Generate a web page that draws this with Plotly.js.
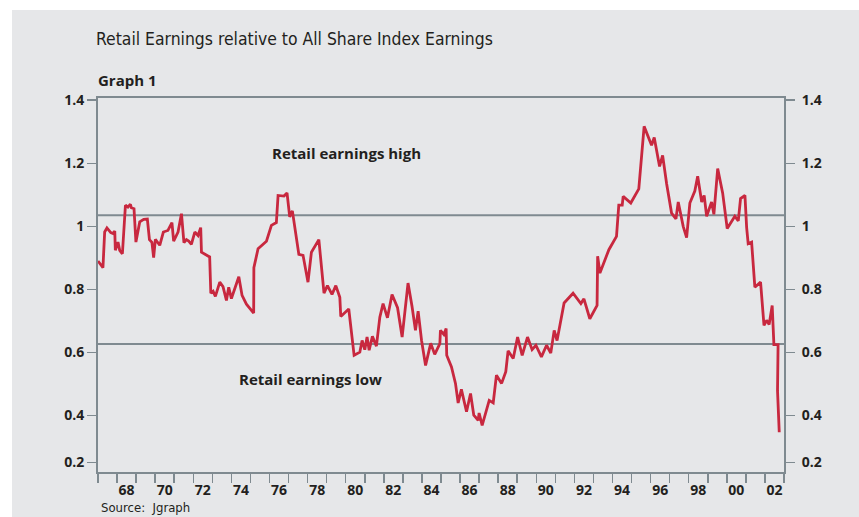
<!DOCTYPE html>
<html>
<head>
<meta charset="utf-8">
<script src="https://cdn.plot.ly/plotly-3.0.1.min.js"></script>
<style>
  html, body { margin: 0; padding: 0; background: #ffffff; width: 859px; height: 517px; overflow: hidden; }
  #chart { position: absolute; left: 12px; top: 10px; width: 847px; height: 507px; }
</style>
</head>
<body>
<div id="chart"></div>
<script>
// Decimal-year positions of the line's vertices
const years = [
  1967.00, 1967.26, 1967.35, 1967.47, 1967.67, 1967.79, 1967.88, 1967.91, 1968.05, 1968.14,
  1968.28, 1968.44, 1968.57, 1968.70, 1968.75, 1968.89, 1968.99, 1969.19, 1969.40, 1969.59,
  1969.70, 1969.83, 1969.92, 1970.01, 1970.24, 1970.43, 1970.67, 1970.88, 1970.97, 1971.20,
  1971.38, 1971.51, 1971.64, 1971.76, 1971.90, 1972.08, 1972.25, 1972.39, 1972.43, 1972.86,
  1972.92, 1973.04, 1973.16, 1973.39, 1973.56, 1973.74, 1973.86, 1974.00, 1974.18, 1974.39,
  1974.56, 1974.79, 1975.17, 1975.18, 1975.40, 1975.84, 1976.10, 1976.36, 1976.45, 1976.76,
  1976.92, 1977.06, 1977.20, 1977.54, 1977.76, 1978.02, 1978.20, 1978.59, 1978.86, 1979.04,
  1979.28, 1979.48, 1979.69, 1979.74, 1980.16, 1980.44, 1980.74, 1980.86, 1981.00, 1981.12,
  1981.23, 1981.40, 1981.61, 1981.79, 1981.96, 1982.19, 1982.43, 1982.72, 1982.96, 1983.27,
  1983.48, 1983.66, 1983.80, 1983.98, 1984.19, 1984.46, 1984.67, 1984.94, 1984.97, 1985.15,
  1985.27, 1985.30, 1985.55, 1985.76, 1985.90, 1986.07, 1986.34, 1986.55, 1986.72, 1986.95,
  1987.00, 1987.16, 1987.53, 1987.74, 1987.91, 1988.18, 1988.40, 1988.52, 1988.79, 1989.02,
  1989.26, 1989.54, 1989.78, 1989.98, 1990.27, 1990.54, 1990.76, 1990.94, 1991.09, 1991.46,
  1991.93, 1992.34, 1992.50, 1992.81, 1993.19, 1993.22, 1993.34, 1993.81, 1994.21, 1994.33,
  1994.51, 1994.56, 1994.96, 1995.38, 1995.66, 1996.05, 1996.19, 1996.47, 1996.63, 1996.84,
  1997.10, 1997.33, 1997.45, 1997.71, 1997.89, 1998.06, 1998.32, 1998.47, 1998.68, 1998.81,
  1998.94, 1999.20, 1999.32, 1999.52, 1999.78, 2000.02, 2000.42, 2000.60, 2000.72, 2000.95,
  2001.04, 2001.12, 2001.30, 2001.47, 2001.77, 2001.95, 2002.09, 2002.22, 2002.38, 2002.47,
  2002.69, 2002.66, 2002.75
];

// Retail earnings relative to All Share Index earnings
const relativeEarnings = [
  0.890, 0.869, 0.982, 0.995, 0.980, 0.977, 0.985, 0.924, 0.950, 0.924,
  0.913, 1.067, 1.061, 1.070, 1.059, 1.056, 0.950, 1.014, 1.022, 1.023,
  0.958, 0.949, 0.901, 0.959, 0.940, 0.982, 0.987, 1.012, 0.953, 0.982,
  1.040, 0.948, 0.958, 0.953, 0.943, 0.982, 0.971, 0.996, 0.918, 0.903,
  0.788, 0.794, 0.778, 0.823, 0.809, 0.765, 0.807, 0.771, 0.803, 0.840,
  0.781, 0.753, 0.725, 0.869, 0.929, 0.953, 1.003, 1.012, 1.098, 1.096,
  1.106, 1.030, 1.049, 0.911, 0.908, 0.823, 0.918, 0.958, 0.788, 0.812,
  0.784, 0.812, 0.775, 0.714, 0.738, 0.591, 0.601, 0.638, 0.609, 0.649,
  0.607, 0.651, 0.620, 0.712, 0.755, 0.710, 0.784, 0.742, 0.649, 0.820,
  0.746, 0.670, 0.731, 0.638, 0.559, 0.629, 0.594, 0.628, 0.670, 0.657,
  0.676, 0.591, 0.554, 0.502, 0.440, 0.483, 0.412, 0.470, 0.401, 0.385,
  0.408, 0.369, 0.448, 0.440, 0.528, 0.502, 0.539, 0.605, 0.581, 0.649,
  0.591, 0.649, 0.609, 0.623, 0.586, 0.623, 0.598, 0.670, 0.638, 0.757,
  0.788, 0.755, 0.770, 0.707, 0.749, 0.905, 0.852, 0.926, 0.968, 1.067,
  1.067, 1.095, 1.074, 1.119, 1.317, 1.257, 1.282, 1.190, 1.225, 1.135,
  1.042, 1.024, 1.077, 1.000, 0.964, 1.074, 1.112, 1.159, 1.077, 1.098,
  1.032, 1.077, 1.038, 1.183, 1.106, 0.993, 1.032, 1.017, 1.088, 1.098,
  0.996, 0.945, 0.950, 0.807, 0.823, 0.686, 0.702, 0.689, 0.749, 0.625,
  0.625, 0.479, 0.347
];

// Reference levels
const highLevel = 1.035;
const lowLevel = 0.627;

// Axis ticks
const xTickYears = [1968, 1970, 1972, 1974, 1976, 1978, 1980, 1982, 1984, 1986, 1988, 1990, 1992, 1994, 1996, 1998, 2000, 2002];
const xTickLabels = ['68', '70', '72', '74', '76', '78', '80', '82', '84', '86', '88', '90', '92', '94', '96', '98', '00', '02'];
const yTickValues = [0.2515, 0.4, 0.6, 0.8, 1.0, 1.2, 1.4];
const yTickLabels = ['0.2', '0.4', '0.6', '0.8', '1', '1.2', '1.4'];

const axisGray = '#7f8a90';
const textDark = '#231f20';
const bg = '#e6e7e9';
const boldFont = { family: '"Open Sans", "Noto Sans", sans-serif', size: 14, color: textDark, weight: 700 };
const narrowFamily = '"Liberation Sans Narrow", "DejaVu Sans Condensed", "Roboto", sans-serif';
const yRange = [0.221, 1.407];
const xRange = [1967, 2003];

const trace = {
  x: years,
  y: relativeEarnings,
  type: 'scatter',
  mode: 'lines',
  line: { color: '#c8283f', width: 2.8 },
  hoverinfo: 'x+y',
  showlegend: false
};

const yCommon = {
  range: yRange,
  tickmode: 'array',
  tickvals: yTickValues,
  ticktext: yTickLabels,
  ticks: 'outside',
  ticklen: 9,
  tickwidth: 1.5,
  tickcolor: axisGray,
  showline: true,
  linecolor: axisGray,
  linewidth: 2,
  showgrid: false,
  zeroline: false,
  tickfont: boldFont,
  fixedrange: true
};

const layout = {
  width: 847,
  height: 507,
  paper_bgcolor: bg,
  plot_bgcolor: bg,
  margin: { l: 86, r: 75, t: 88, b: 45, pad: 0 },
  title: {
    text: 'Retail Earnings relative to All Share Index Earnings',
    font: { family: narrowFamily, size: 17.4, color: textDark },
    xref: 'container', yref: 'container',
    x: 84 / 847, xanchor: 'left',
    y: 1 - 29 / 507, yanchor: 'middle'
  },
  xaxis: {
    range: xRange,
    tickmode: 'linear',
    tick0: 1967,
    dtick: 1,
    ticks: 'outside',
    ticklen: 9,
    tickwidth: 1.5,
    tickcolor: axisGray,
    showticklabels: false,
    showline: true,
    mirror: true,
    linecolor: axisGray,
    linewidth: 2,
    showgrid: false,
    zeroline: false,
    fixedrange: true
  },
  xaxis2: {
    overlaying: 'x',
    anchor: 'y',
    side: 'bottom',
    range: xRange,
    tickmode: 'array',
    tickvals: xTickYears.map(y => y + 0.5),
    ticktext: xTickLabels,
    ticks: '',
    ticklabelstandoff: 8,
    showline: false,
    showgrid: false,
    zeroline: false,
    tickfont: boldFont,
    fixedrange: true
  },
  yaxis: Object.assign({}, yCommon, { side: 'left', ticklabelstandoff: 0 }),
  yaxis2: Object.assign({}, yCommon, { side: 'right', overlaying: 'y', anchor: 'x', ticklabelstandoff: 4 }),
  shapes: [
    { type: 'line', xref: 'paper', x0: 0, x1: 1, yref: 'y', y0: highLevel, y1: highLevel, line: { color: axisGray, width: 2 }, layer: 'below' },
    { type: 'line', xref: 'paper', x0: 0, x1: 1, yref: 'y', y0: lowLevel, y1: lowLevel, line: { color: axisGray, width: 2 }, layer: 'below' }
  ],
  annotations: [
    { text: 'Retail earnings high', xref: 'x', yref: 'y', x: 1980.06, y: 1.232, showarrow: false, font: Object.assign({}, boldFont, { size: 15 }), xanchor: 'center', yanchor: 'middle' },
    { text: 'Retail earnings low', xref: 'x', yref: 'y', x: 1978.17, y: 0.515, showarrow: false, font: Object.assign({}, boldFont, { size: 15 }), xanchor: 'center', yanchor: 'middle' },
    { text: 'Graph 1', xref: 'paper', yref: 'paper', x: 0, y: 1 + (97.7 - 80) / 374, showarrow: false, font: Object.assign({}, boldFont, { size: 15 }), xanchor: 'left', yanchor: 'middle', xshift: -2 },
    { text: 'Source:  Jgraph', xref: 'paper', yref: 'paper', x: 0, y: -(507 - 471.7) / 374, showarrow: false, font: { family: narrowFamily, size: 13, color: textDark }, xanchor: 'left', yanchor: 'middle', xshift: 1 }
  ]
};

// Invisible trace so the overlaying axes are drawn
const axisHelper = {
  x: [xRange[0]], y: [yRange[0]], xaxis: 'x2', yaxis: 'y2',
  type: 'scatter', mode: 'markers', marker: { opacity: 0 }, hoverinfo: 'skip', showlegend: false
};

Plotly.newPlot('chart', [trace, axisHelper], layout, { displayModeBar: false, staticPlot: true });
</script>
</body>
</html>
